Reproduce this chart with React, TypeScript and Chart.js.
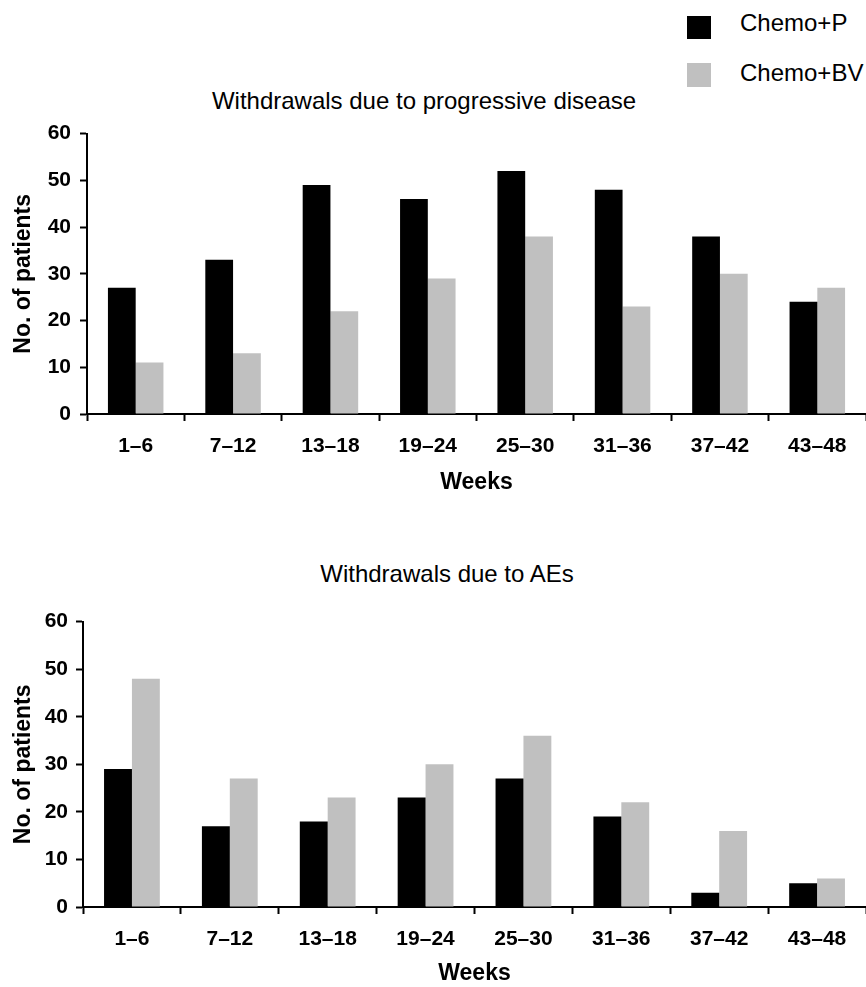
import React, { useEffect, useRef } from "react";
import { Chart, registerables } from "chart.js";

Chart.register(...registerables);

const categories = ["1–6", "7–12", "13–18", "19–24", "25–30", "31–36", "37–42", "43–48"];
const seriesNames = ["Chemo+P", "Chemo+BV"];
const seriesColors = ["#000000", "#c0c0c0"];

const pdChemoP = [27, 33, 49, 46, 52, 48, 38, 24];
const pdChemoBV = [11, 13, 22, 29, 38, 23, 30, 27];
const aeChemoP = [29, 17, 18, 23, 27, 19, 3, 5];
const aeChemoBV = [48, 27, 23, 30, 36, 22, 16, 6];

const yMin = 0;
const yMax = 60;
const yStep = 10;

const titleTop = "Withdrawals due to progressive disease";
const titleBottom = "Withdrawals due to AEs";
const xTitle = "Weeks";
const yTitle = "No. of patients";

const FONT = "'Liberation Sans', Arial, Helvetica, sans-serif";

type PanelProps = {
  top: number;
  height: number;
  yWidth: number;
  xHeight: number;
  yTickPad: number;
  xTitlePadBottom: number;
  a: number[];
  b: number[];
};

function BarPanel(props: PanelProps) {
  const ref = useRef<HTMLCanvasElement | null>(null);
  useEffect(() => {
    if (!ref.current) return;
    const chart = new Chart(ref.current, {
      type: "bar",
      data: {
        labels: categories,
        datasets: [
          {
            label: seriesNames[0],
            data: props.a,
            backgroundColor: seriesColors[0],
            borderWidth: 0,
            categoryPercentage: 0.57,
            barPercentage: 1.0,
          },
          {
            label: seriesNames[1],
            data: props.b,
            backgroundColor: seriesColors[1],
            borderWidth: 0,
            categoryPercentage: 0.57,
            barPercentage: 1.0,
          },
        ],
      },
      options: {
        responsive: false,
        maintainAspectRatio: false,
        animation: false,
        devicePixelRatio: 1,
        layout: { padding: { top: 20, right: 0, bottom: 0, left: 0 } },
        plugins: {
          legend: { display: false },
          title: { display: false },
          tooltip: { enabled: false },
        },
        scales: {
          x: {
            type: "category",
            offset: true,
            grid: {
              display: true,
              offset: true,
              drawOnChartArea: false,
              drawTicks: true,
              tickLength: 7,
              tickWidth: 2,
              tickColor: "#000",
            },
            border: { display: true, color: "#000", width: 2 },
            ticks: {
              color: "#000",
              font: { family: FONT, size: 21, weight: "bold" },
              padding: 13,
              maxRotation: 0,
              autoSkip: false,
            },
            title: {
              display: true,
              text: xTitle,
              color: "#000",
              font: { family: FONT, size: 23, weight: "bold" },
              padding: { top: 0, bottom: props.xTitlePadBottom },
            },
            afterFit: (s: any) => {
              s.height = props.xHeight;
            },
          },
          y: {
            min: yMin,
            max: yMax,
            ticks: {
              stepSize: yStep,
              color: "#000",
              font: { family: FONT, size: 21, weight: "bold" },
              padding: props.yTickPad,
            },
            grid: {
              display: true,
              drawOnChartArea: false,
              drawTicks: true,
              tickLength: 7,
              tickWidth: 2,
              tickColor: "#000",
            },
            border: { display: true, color: "#000", width: 2 },
            title: {
              display: true,
              text: yTitle,
              color: "#000",
              font: { family: FONT, size: 23, weight: "bold" },
              padding: { top: 10, bottom: 0 },
            },
            afterFit: (s: any) => {
              s.width = props.yWidth;
            },
          },
        },
      },
    } as any);
    return () => chart.destroy();
  }, []);
  return (
    <canvas
      ref={ref}
      width={866}
      height={props.height}
      style={{ position: "absolute", left: 0, top: props.top, width: 866, height: props.height, display: "block" }}
    />
  );
}

const textStyle: React.CSSProperties = {
  position: "absolute",
  fontFamily: FONT,
  fontSize: 24,
  lineHeight: "28px",
  color: "#000",
  whiteSpace: "nowrap",
};

export default function App() {
  return (
    <div
      style={{
        position: "absolute",
        left: 0,
        top: 0,
        width: 866,
        height: 987,
        overflow: "hidden",
        background: "#fff",
      }}
    >
      <div style={{ position: "absolute", left: 687, top: 16, width: 24, height: 23, background: seriesColors[0] }} />
      <div style={{ ...textStyle, left: 740, top: 9 }}>{seriesNames[0]}</div>
      <div style={{ position: "absolute", left: 687, top: 63, width: 24, height: 24, background: seriesColors[1] }} />
      <div style={{ ...textStyle, left: 740, top: 59 }}>{seriesNames[1]}</div>

      <div style={{ ...textStyle, left: 424, top: 87, transform: "translateX(-50%)" }}>{titleTop}</div>
      <div style={{ ...textStyle, left: 447, top: 560, transform: "translateX(-50%)" }}>{titleBottom}</div>

      <BarPanel top={112} height={388} yWidth={87} xHeight={86} yTickPad={9} xTitlePadBottom={4} a={pdChemoP} b={pdChemoBV} />
      <BarPanel top={601} height={386} yWidth={83} xHeight={80} yTickPad={8} xTitlePadBottom={0} a={aeChemoP} b={aeChemoBV} />
    </div>
  );
}
